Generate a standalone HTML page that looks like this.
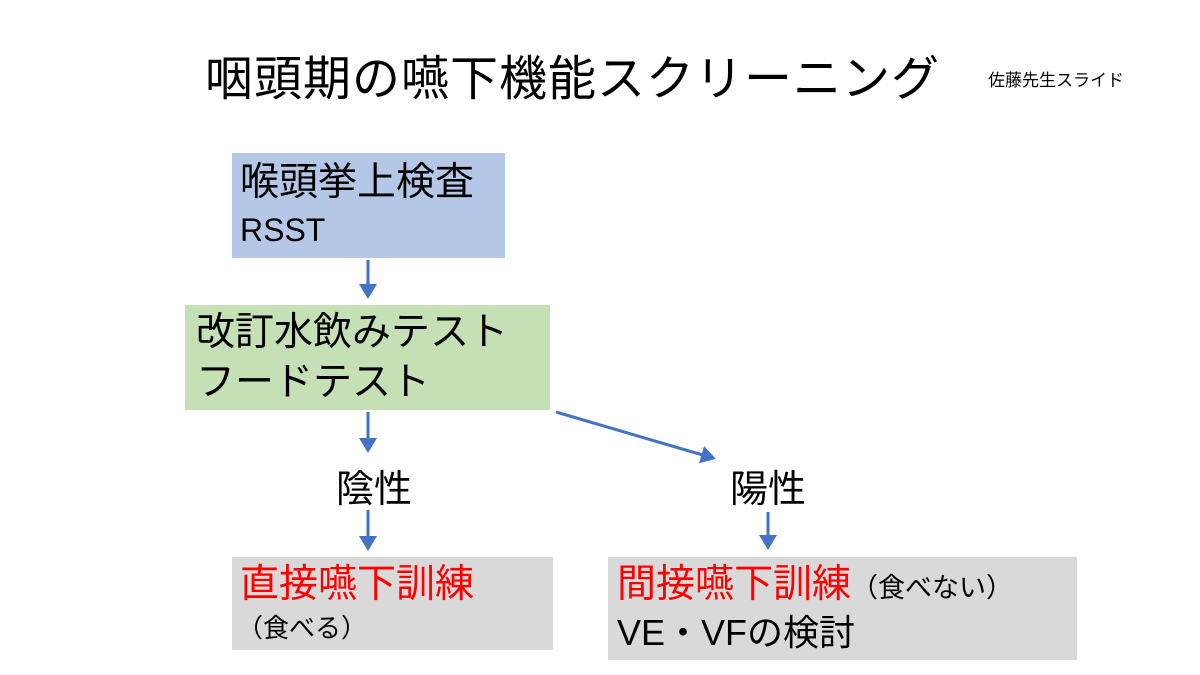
<!DOCTYPE html>
<html><head><meta charset="utf-8"><style>
body{margin:0;width:1200px;height:675px;background:#fff;position:relative;overflow:hidden;font-family:"Liberation Sans","Noto Sans CJK JP",sans-serif}
.t{position:absolute;white-space:nowrap;line-height:1}
.box{position:absolute}
</style></head><body>
<div class="t" style="left:205px;top:56px;font-size:48px;letter-spacing:1px">咽頭期の嚥下機能スクリーニング</div>
<div class="t" style="left:988px;top:72px;font-size:17px">佐藤先生スライド</div>

<div class="box" style="left:232px;top:153px;width:273px;height:105px;background:#b4c7e7"></div>
<div class="t" style="left:240px;top:163px;font-size:39px">喉頭挙上検査</div>
<div class="t" style="left:240px;top:214px;font-size:32px">RSST</div>

<div class="box" style="left:185px;top:305px;width:365px;height:105px;background:#c5e0b4"></div>
<div class="t" style="left:196px;top:313px;font-size:39px">改訂水飲みテスト</div>
<div class="t" style="left:196px;top:363px;font-size:39px">フードテスト</div>

<div class="t" style="left:336px;top:471px;font-size:38px">陰性</div>
<div class="t" style="left:730px;top:471px;font-size:38px">陽性</div>

<div class="box" style="left:232px;top:557px;width:321px;height:93px;background:#d9d9d9"></div>
<div class="t" style="left:240px;top:565px;font-size:39px;color:#ff0000">直接嚥下訓練</div>
<div class="t" style="left:237px;top:615px;font-size:26px">（食べる）</div>

<div class="box" style="left:608px;top:557px;width:469px;height:103px;background:#d9d9d9"></div>
<div class="t" style="left:617px;top:565px;font-size:39px"><span style="color:#ff0000">間接嚥下訓練</span><span style="font-size:27px">（食べない）</span></div>
<div class="t" style="left:617px;top:615px;font-size:36px">VE・VFの検討</div>

<svg width="1200" height="675" style="position:absolute;left:0;top:0">
<defs><marker id="a" markerWidth="6" markerHeight="6" refX="4" refY="3" orient="auto" markerUnits="strokeWidth"><path d="M0,0 L5,3 L0,6 Z" fill="#4472c4"/></marker></defs>
<g stroke="#4472c4" stroke-width="3" marker-end="url(#a)">
<line x1="368" y1="260" x2="368" y2="296"/>
<line x1="368" y1="412" x2="368" y2="450"/>
<line x1="368" y1="510" x2="368" y2="548"/>
<line x1="556" y1="412" x2="713" y2="458"/>
<line x1="768" y1="512" x2="768" y2="547"/>
</g></svg>
</body></html>
